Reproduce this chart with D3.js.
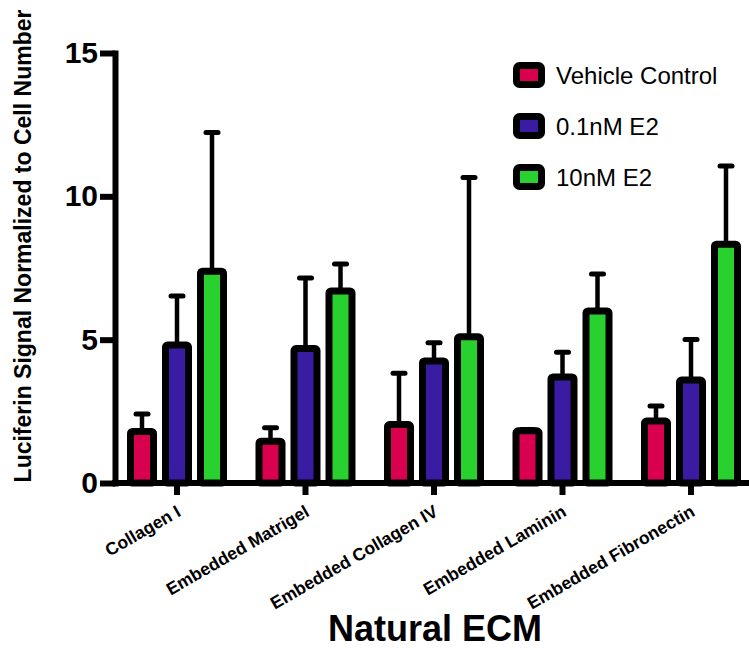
<!DOCTYPE html>
<html>
<head>
<meta charset="utf-8">
<script src="https://cdn.jsdelivr.net/npm/d3@7"></script>
<style>
  body { margin: 0; background: #fff; }
  text { font-family: "Liberation Sans", Arial, sans-serif; }
</style>
</head>
<body>
<div id="wrapper"></div>
<script>
// values
var categories = ["Collagen I", "Embedded Matrigel", "Embedded Collagen IV", "Embedded Laminin", "Embedded Fibronectin"];
var seriesNames = ["Vehicle Control", "0.1nM E2", "10nM E2"];
var vehicleMean = [1.80, 1.46, 2.04, 1.82, 2.16];
var vehicleErr = [0.61, 0.47, 1.79, 0.05, 0.53];
var lowE2Mean = [4.81, 4.69, 4.26, 3.70, 3.59];
var lowE2Err = [1.71, 2.46, 0.63, 0.86, 1.42];
var highE2Mean = [7.39, 6.70, 5.10, 6.00, 8.33];
var highE2Err = [4.84, 0.94, 5.56, 1.29, 2.73];
var yTicks = [0, 5, 10, 15];

var means = [vehicleMean, lowE2Mean, highE2Mean];
var errs = [vehicleErr, lowE2Err, highE2Err];

var dimension = {
    width: 749,
    height: 649,
    left: 115,
    top: 53,
    bottom: 483,
    stroke: 7
}

var colorScale = d3.scaleOrdinal()
    .domain(seriesNames)
    .range(["#d8004f", "#3a1ca2", "#28d12e"]);

const svg = d3.select("#wrapper")
    .append("svg")
    .attr("width", dimension.width)
    .attr("height", dimension.height)

const yScaler = d3.scaleLinear()
    .domain([0, 15])
    .range([dimension.bottom, dimension.top]);

const xScaler = d3.scaleBand()
    .domain(categories)
    .range([112.75, 755.25])
    .padding(0);

const innerScaler = d3.scaleBand()
    .domain(seriesNames)
    .range([-52.5, 52.5])
    .padding(0);

// one row per bar
var rows = [];
categories.forEach(function(c, i){
    seriesNames.forEach(function(s, j){
        rows.push({cat: c, series: s, value: means[j][i], err: errs[j][i]});
    });
});

const barX = d => xScaler(d.cat) + xScaler.bandwidth()/2 + innerScaler(d.series) + innerScaler.bandwidth()/2;

// y axis
const yAxisGenerator = d3.axisLeft()
    .scale(yScaler)
    .tickValues(yTicks)
    .tickSize(15)
    .tickSizeOuter(0)
    .tickPadding(2);

const yAxis = svg.append("g")
    .attr("transform", `translate(${dimension.left},0)`)
    .call(yAxisGenerator);
yAxis.select(".domain").attr("stroke-width", 6).attr("stroke-linecap", "square");
yAxis.selectAll(".tick line").attr("stroke-width", 6);
yAxis.selectAll(".tick text")
    .attr("font-size", 30)
    .attr("font-weight", "bold")
    .attr("font-family", "Liberation Sans, Arial, sans-serif")
    .attr("fill", "#000");

// x axis
const xAxisGenerator = d3.axisBottom()
    .scale(xScaler)
    .tickSize(12)
    .tickSizeOuter(0);

const xAxis = svg.append("g")
    .attr("transform", `translate(0,${dimension.bottom})`)
    .call(xAxisGenerator);
xAxis.select(".domain").attr("d", `M${dimension.left - 3},0H${dimension.width}`).attr("stroke-width", 6);
xAxis.selectAll(".tick line").attr("stroke-width", 6);
xAxis.selectAll(".tick text")
    .attr("font-size", 17.5)
    .attr("font-weight", "bold")
    .attr("font-family", "Liberation Sans, Arial, sans-serif")
    .attr("fill", "#000")
    .attr("text-anchor", "end")
    .attr("y", 0)
    .attr("dy", 0)
    .attr("transform", "translate(5,32) rotate(-30)");

// bars
const bars = svg.append("g").attr("class", "bars");

// error bars drawn first so the bar outline covers the stem foot
bars.selectAll("line.stem")
    .data(rows)
    .enter()
    .append("line")
    .attr("class", "stem")
    .attr("x1", barX)
    .attr("x2", barX)
    .attr("y1", d => yScaler(d.value))
    .attr("y2", d => yScaler(d.value + d.err))
    .attr("stroke", "#000")
    .attr("stroke-width", 4.5);

bars.selectAll("line.cap")
    .data(rows)
    .enter()
    .append("line")
    .attr("class", "cap")
    .attr("x1", d => barX(d) - 6)
    .attr("x2", d => barX(d) + 6)
    .attr("y1", d => yScaler(d.value + d.err))
    .attr("y2", d => yScaler(d.value + d.err))
    .attr("stroke", "#000")
    .attr("stroke-width", 5)
    .attr("stroke-linecap", "round");

var barW = 30 - dimension.stroke;
bars.selectAll("rect")
    .data(rows)
    .enter()
    .append("rect")
    .attr("x", d => barX(d) - barW/2)
    .attr("y", d => yScaler(d.value))
    .attr("width", barW)
    .attr("height", d => yScaler(0) - yScaler(d.value))
    .attr("rx", 2)
    .attr("fill", d => colorScale(d.series))
    .attr("stroke", "#000")
    .attr("stroke-width", dimension.stroke)
    .attr("stroke-linejoin", "round");

// legend
const legend = svg.append("g")
    .selectAll("g")
    .data(seriesNames)
    .enter()
    .append("g")
    .attr("transform", (d, i) => `translate(513,${75 + i*51})`);

legend.append("rect")
    .attr("x", 3.5)
    .attr("y", -9.5)
    .attr("width", 25)
    .attr("height", 19)
    .attr("rx", 3)
    .attr("fill", d => colorScale(d))
    .attr("stroke", "#000")
    .attr("stroke-width", 7);

legend.append("text")
    .attr("x", 43)
    .attr("y", 8.5)
    .attr("font-size", 24)
    .text(d => d);

// axis titles
svg.append("text")
    .attr("transform", "translate(31,246) rotate(-90)")
    .attr("text-anchor", "middle")
    .attr("font-size", 23)
    .attr("font-weight", "bold")
    .text("Luciferin Signal Normalized to Cell Number");

svg.append("text")
    .attr("x", 435)
    .attr("y", 641)
    .attr("text-anchor", "middle")
    .attr("font-size", 36)
    .attr("font-weight", "bold")
    .text("Natural ECM");
</script>
</body>
</html>
